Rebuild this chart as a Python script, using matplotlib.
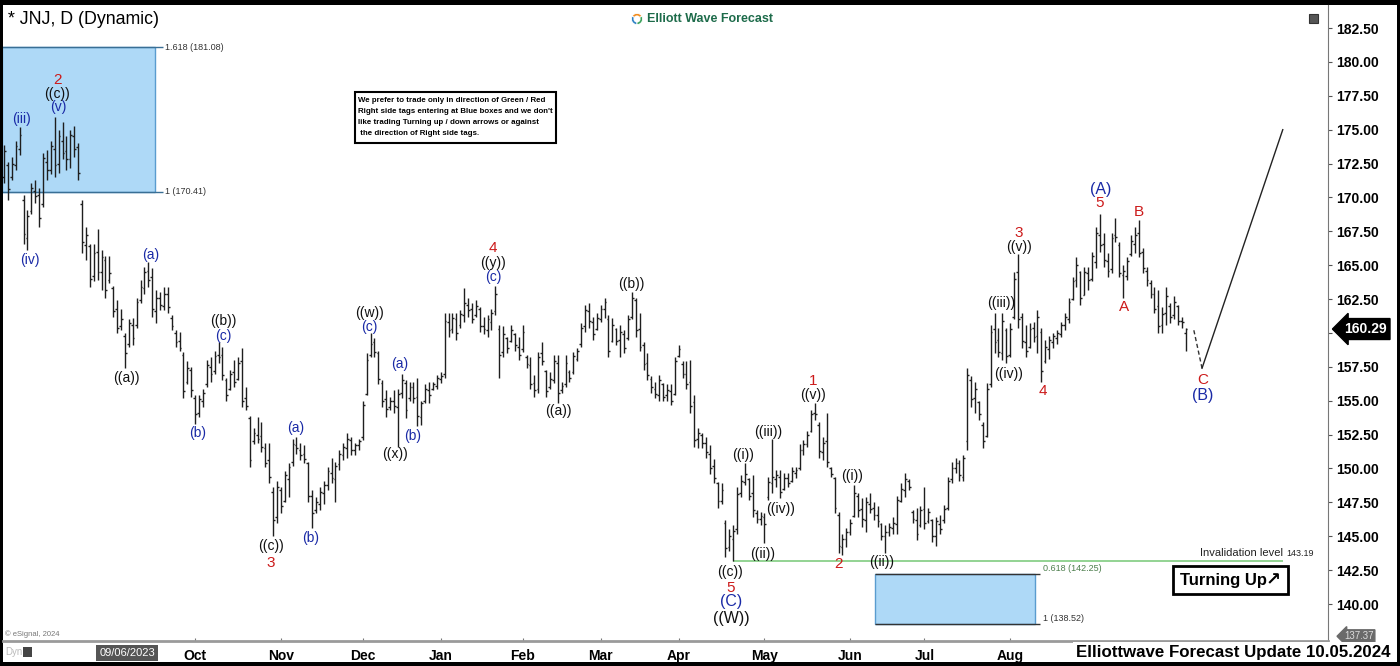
import numpy as np
import matplotlib
matplotlib.use('Agg')
import matplotlib.pyplot as plt
from matplotlib.patches import Rectangle
from matplotlib.transforms import blended_transform_factory

plt.rcParams['font.family'] = ['Liberation Sans', 'DejaVu Sans']

# daily OHLC of JNJ (bar 0 ~ late Jul 2023, last bar 04 Oct 2024)
highs = [173.9,172.6,173.0,174.2,175.2,170.2,169.1,171.1,171.3,170.7,
         173.3,173.5,174.2,175.9,175.0,175.6,174.5,175.0,175.3,174.0,
         169.8,167.8,166.6,166.6,167.7,166.1,165.7,165.7,163.5,162.4,
         161.8,160.0,161.0,161.1,162.6,163.9,164.9,165.2,164.8,163.2,
         163.0,163.4,163.4,161.3,160.2,160.1,158.6,157.9,157.5,155.4,
         155.4,155.9,158.0,158.2,158.7,159.3,159.0,156.7,157.3,158.0,
         158.2,158.9,156.0,153.9,153.0,153.8,153.4,151.9,151.9,148.6,
         149.1,148.6,149.8,150.4,152.2,152.3,151.9,151.7,150.5,148.4,
         147.9,148.6,149.1,150.1,150.8,150.5,151.4,151.9,152.6,152.3,
         151.9,152.2,155.0,158.5,160.0,159.6,158.7,156.5,155.8,155.3,
         155.8,155.9,157.0,156.5,156.4,156.4,156.7,155.0,156.2,156.4,
         156.4,156.9,157.1,161.5,161.5,161.5,161.5,161.7,163.3,162.6,
         162.2,162.4,161.9,161.2,161.3,161.8,163.5,160.6,160.5,159.7,
         160.6,160.0,159.7,160.6,158.4,158.2,156.9,158.6,159.3,157.3,
         157.1,158.4,158.4,156.4,158.4,157.3,158.6,158.9,160.7,162.1,
         162.2,161.2,161.5,162.1,162.6,161.3,161.1,160.4,160.6,160.2,
         161.3,163.0,162.6,161.5,159.3,158.5,156.8,156.4,156.9,156.3,
         156.2,156.2,158.2,159.1,157.9,157.9,158.0,155.4,153.0,152.6,
         152.3,151.7,150.7,149.0,148.9,146.2,145.5,145.8,148.6,149.5,
         150.4,149.3,149.5,146.9,146.8,146.7,149.4,152.2,149.9,149.9,
         149.7,149.7,150.1,150.1,151.8,152.1,152.8,154.3,154.8,153.4,
         152.3,154.1,150.1,149.4,146.8,145.2,145.6,146.3,148.8,148.2,
         147.8,147.9,148.2,147.5,147.2,146.0,145.8,146.0,146.4,148.0,
         148.9,149.7,149.2,146.9,147.1,147.2,148.6,147.1,146.3,146.4,
         146.6,147.3,149.4,150.5,150.8,150.6,151.0,157.4,156.8,156.4,
         155.0,153.4,156.3,160.6,161.5,160.4,161.5,160.4,160.7,164.5,
         165.8,161.5,160.6,160.7,160.8,161.7,160.4,159.5,159.8,160.0,
         160.2,160.8,161.5,162.6,164.1,165.6,164.6,164.9,164.9,166.0,
         167.8,168.8,167.4,165.9,167.4,168.5,166.7,165.0,165.6,167.2,
         167.8,168.3,166.3,164.9,163.9,163.4,163.2,161.9,163.4,162.2,
         162.7,162.1,161.2,160.4]
lows = [171.1,169.8,171.3,172.0,173.1,166.6,166.1,168.8,169.6,167.8,
        169.3,171.3,171.7,171.5,171.8,172.8,172.0,172.2,173.0,171.3,
        165.9,165.4,163.4,163.8,163.9,163.2,162.6,163.7,161.2,160.0,
        160.2,157.4,159.0,159.1,160.4,162.2,162.9,163.4,161.2,160.7,
        161.7,161.7,161.5,160.2,159.0,158.7,155.2,156.2,155.3,153.3,
        153.8,154.5,156.0,156.4,157.0,157.8,156.5,155.0,155.8,156.0,
        156.5,154.5,154.3,150.1,151.8,151.9,151.2,150.1,148.9,145.0,
        146.0,146.7,147.5,147.9,150.2,151.1,150.6,150.4,147.5,145.6,
        146.7,146.9,147.4,148.4,148.9,147.5,149.9,150.6,150.8,151.0,
        151.0,151.4,152.1,155.4,158.2,158.2,156.2,154.5,153.8,154.3,
        154.1,151.6,155.2,153.7,155.0,154.8,153.1,153.2,154.8,154.8,
        155.8,155.9,156.3,156.7,159.7,160.0,159.5,160.4,160.8,161.2,
        160.7,161.2,160.1,159.9,159.7,160.2,161.3,156.7,158.2,158.5,
        159.3,158.7,158.0,158.6,157.4,155.9,155.3,155.6,157.6,155.3,
        155.9,156.3,154.8,155.6,156.0,156.4,157.0,157.9,159.0,160.1,
        160.4,159.5,160.2,160.8,161.1,158.2,159.3,159.1,158.2,158.5,
        159.5,161.0,159.7,158.7,157.3,156.5,155.6,155.2,155.0,155.0,
        155.0,154.7,155.4,158.2,156.7,155.9,154.1,151.6,151.5,151.5,
        150.8,149.6,148.9,147.1,147.4,143.5,143.9,143.19,145.2,147.9,
        148.8,147.7,146.4,146.0,145.8,144.5,147.7,148.2,148.6,147.8,
        148.4,148.6,149.0,149.3,149.9,151.0,151.6,152.7,153.6,150.8,
        150.6,150.1,149.4,146.7,143.8,143.6,144.2,145.1,146.4,146.4,
        145.7,145.3,146.7,146.2,145.7,144.7,143.8,145.0,145.2,145.2,
        147.5,147.9,148.4,146.0,144.7,145.7,145.5,146.0,144.6,144.3,
        145.2,146.0,146.9,148.9,149.7,149.1,149.1,151.4,154.5,154.1,
        153.6,151.5,152.3,156.0,158.5,158.2,158.0,157.8,158.2,161.0,
        160.4,158.9,158.2,158.9,159.3,158.5,156.4,157.8,158.1,158.9,
        159.2,159.7,160.2,160.7,162.4,163.4,162.1,162.8,163.2,163.8,
        164.8,166.0,164.9,164.1,164.4,166.7,164.1,162.6,163.9,165.7,
        165.9,165.6,164.4,163.5,162.6,161.5,160.0,160.0,160.6,160.7,
        161.0,160.6,160.4,158.7]
opens = [171.5,172.4,171.5,172.4,173.6,169.8,167.0,169.0,170.5,170.2,
         169.5,172.6,172.0,173.6,172.5,174.2,173.4,172.8,174.5,173.7,
         169.5,166.5,166.4,164.2,166.0,164.5,165.4,163.9,163.3,161.8,
         160.5,159.8,159.2,160.6,160.6,162.4,163.3,164.6,164.1,161.6,
         162.6,162.0,162.9,161.1,160.0,159.4,158.4,156.4,157.3,155.2,
         154.1,155.0,156.2,157.5,157.2,158.4,158.4,156.5,155.9,157.1,
         156.6,157.9,155.2,153.7,152.0,152.5,152.4,151.5,150.6,148.3,
         146.4,148.4,147.6,149.2,150.5,151.7,151.4,151.1,150.4,148.0,
         146.9,147.4,148.2,148.8,149.7,149.2,150.3,151.0,151.5,152.1,
         151.4,151.7,152.3,155.5,158.4,159.3,158.5,156.3,155.1,154.5,
         155.0,154.5,155.6,156.3,155.2,156.0,155.3,153.8,155.0,155.8,
         155.9,156.1,156.6,157.0,160.8,160.3,161.0,160.6,161.3,162.1,
         161.8,161.3,161.8,160.5,160.2,160.8,161.6,160.3,158.6,159.6,
         159.4,159.9,159.0,158.8,158.2,157.6,156.3,155.9,158.5,157.2,
         156.0,156.5,157.8,155.8,156.2,157.1,157.1,158.1,159.2,160.5,
         161.6,160.8,160.3,161.0,161.8,161.0,159.4,160.3,159.5,159.9,
         159.6,161.2,162.4,160.3,159.1,157.8,156.6,155.9,155.4,156.2,
         155.4,155.7,155.5,158.3,157.7,157.0,156.4,154.9,152.2,152.5,
         151.9,151.1,150.2,148.9,147.6,146.0,144.2,144.8,145.5,148.2,
         149.0,149.2,148.2,146.7,146.3,146.4,147.9,148.9,149.2,149.4,
         148.5,149.3,149.1,149.7,150.0,151.4,151.8,152.8,154.1,153.2,
         151.2,152.0,150.0,149.3,146.6,144.2,144.8,145.3,146.5,148.0,
         147.0,146.2,147.4,147.1,146.6,145.9,145.0,145.3,145.6,145.9,
         147.6,148.4,149.1,146.8,146.2,145.8,147.0,146.1,146.2,145.0,
         145.9,146.2,147.1,149.2,150.0,150.4,149.4,152.0,156.5,155.2,
         154.9,153.2,152.4,156.2,160.3,159.5,158.5,160.2,158.4,161.2,
         164.5,161.2,159.3,159.0,160.4,159.8,160.1,157.9,158.8,159.3,
         159.6,159.9,160.6,161.0,162.5,163.9,164.5,162.8,164.4,164.0,
         165.2,167.2,166.6,165.3,164.7,167.2,166.5,164.3,164.2,165.8,
         166.6,167.4,166.0,164.6,163.7,162.9,162.0,160.6,161.5,162.0,
         161.3,162.0,160.9,160.0]
closes = [173.4,170.6,172.5,173.8,174.6,167.3,168.6,170.7,170.1,168.5,
          172.9,172.0,173.8,172.4,174.5,173.3,172.8,174.6,173.6,171.8,
          166.7,167.2,164.0,165.9,164.5,165.6,163.2,164.4,161.6,160.4,
          161.0,158.5,160.7,159.6,162.3,163.4,164.5,163.9,161.8,162.6,
          162.1,162.9,161.9,160.5,159.3,158.9,155.7,157.4,155.8,154.0,
          155.1,155.6,157.6,157.0,158.3,158.2,156.9,155.4,157.0,156.4,
          157.8,155.0,154.6,150.6,152.6,152.2,151.6,150.4,149.4,146.2,
          148.6,147.2,149.5,150.1,151.8,151.5,151.0,150.7,148.0,146.7,
          147.5,148.3,148.8,149.8,149.3,150.2,151.1,151.6,152.2,151.4,
          151.7,152.0,154.7,158.0,159.2,158.6,156.6,155.0,154.4,155.0,
          154.6,155.5,156.5,154.3,156.0,155.2,153.9,154.8,155.9,155.4,
          156.2,156.7,156.8,160.9,160.2,161.1,160.0,161.4,162.2,161.7,
          161.0,162.0,160.5,160.3,161.0,161.5,162.9,158.4,159.9,158.9,
          160.2,159.1,158.4,160.1,157.7,156.2,155.8,158.2,157.9,155.7,
          156.6,157.9,155.6,156.1,157.8,156.7,158.3,158.7,160.4,161.7,
          160.9,159.9,161.1,161.8,162.3,158.7,160.6,159.4,160.1,158.9,
          161.0,162.6,160.2,159.0,157.7,156.9,156.0,155.5,156.5,155.3,
          155.8,155.0,157.9,158.8,157.0,156.2,154.6,152.1,152.6,151.9,
          151.2,150.0,149.3,147.6,148.4,144.1,145.0,145.4,148.1,149.1,
          149.6,148.0,146.9,146.3,146.5,145.9,149.0,149.4,149.5,148.3,
          149.3,148.9,149.8,149.9,151.4,151.8,152.5,154.0,154.0,151.3,
          151.9,150.5,149.6,147.1,144.3,144.8,145.3,146.0,148.2,146.9,
          146.3,147.5,147.0,146.6,146.1,145.0,145.3,145.7,146.0,147.7,
          148.5,149.2,148.6,146.3,145.2,146.9,146.0,146.8,145.0,146.1,
          145.5,147.0,149.1,150.0,150.4,149.5,150.8,156.9,155.1,155.9,
          154.0,152.0,155.9,160.1,159.3,158.6,160.9,158.3,160.3,164.0,
          161.0,159.4,158.7,160.3,159.7,161.2,157.2,159.0,159.5,159.8,
          160.0,160.6,161.2,162.3,163.8,165.0,162.6,164.5,163.9,165.7,
          167.4,166.5,165.4,164.6,167.0,167.1,164.4,164.6,165.3,166.8,
          167.2,165.9,164.8,163.9,162.9,161.8,160.5,161.4,162.7,161.2,
          162.3,160.9,160.8,160.29]

# month starts (bar index) and their labels
month_pos = [49, 71, 92, 112, 133, 153, 173, 195, 217, 236, 258]
month_lbl = ['Oct', 'Nov', 'Dec', 'Jan', 'Feb', 'Mar', 'Apr', 'May', 'Jun', 'Jul', 'Aug']
price_ticks = [140.0, 142.5, 145.0, 147.5, 150.0, 152.5, 155.0, 157.5, 160.0, 162.5,
               165.0, 167.5, 170.0, 172.5, 175.0, 177.5, 180.0, 182.5]

# fib boxes (bar from, bar to, lower price, upper price)
box_top = [-0.5, 38.7, 170.41, 181.08]
box_bot = [223.3, 264.4, 138.52, 142.25]
invalidation = 143.19
last_price = 160.29

# projected path
proj_x = [305.1, 307.2, 327.9]
proj_y = [160.2, 157.4, 175.0]

RED = '#cc1a1a'
BLUE = '#1a2aa6'
BLK = '#111111'
# wave labels: text, bar, price, colour, size
waves = [
    ('2', 13.8, 178.66, RED, 11), ('((c))', 13.6, 177.63, BLK, 10), ('(v)', 13.8, 176.67, BLUE, 10),
    ('(iii)', 4.6, 175.79, BLUE, 10), ('(iv)', 6.7, 165.38, BLUE, 10),
    ('(a)', 37.7, 165.75, BLUE, 10), ('((a))', 31.5, 156.68, BLK, 10),
    ('((b))', 56.2, 160.88, BLK, 10), ('(c)', 56.2, 159.77, BLUE, 10), ('(b)', 49.7, 152.62, BLUE, 10),
    ('((c))', 68.5, 144.28, BLK, 10), ('3', 68.5, 143.03, RED, 11),
    ('(a)', 74.9, 152.99, BLUE, 10), ('(b)', 78.5, 144.87, BLUE, 10),
    ('((w))', 93.6, 161.47, BLK, 10), ('(c)', 93.6, 160.44, BLUE, 10),
    ('(a)', 101.5, 157.71, BLUE, 10), ('(b)', 104.9, 152.4, BLUE, 10), ('((x))', 100.3, 151.07, BLK, 10),
    ('4', 125.4, 166.27, RED, 11), ('((y))', 125.4, 165.16, BLK, 10), ('(c)', 125.4, 164.13, BLUE, 10),
    ('((a))', 142.1, 154.24, BLK, 10), ('((b))', 160.8, 163.61, BLK, 10),
    ('((c))', 186.2, 142.36, BLK, 10), ('5', 186.2, 141.18, RED, 11),
    ('(C)', 186.4, 140.15, BLUE, 11.5), ('((W))', 186.4, 138.9, BLK, 11.5),
    ('((i))', 189.5, 150.99, BLK, 10), ('((ii))', 194.6, 143.69, BLK, 10),
    ('((iii))', 195.9, 152.69, BLK, 10), ('((iv))', 199.2, 147.01, BLK, 10),
    ('1', 207.4, 156.45, RED, 11), ('((v))', 207.4, 155.42, BLK, 10),
    ('2', 214.1, 142.95, RED, 11), ('((i))', 217.4, 149.45, BLK, 10), ('((ii))', 225.1, 143.1, BLK, 10),
    ('((iii))', 255.6, 162.21, BLK, 10), ('((iv))', 257.7, 156.97, BLK, 10),
    ('3', 260.3, 167.37, RED, 11), ('((v))', 260.3, 166.34, BLK, 10),
    ('4', 266.4, 155.72, RED, 11),
    ('(A)', 281.3, 170.62, BLUE, 11.5), ('5', 281.0, 169.59, RED, 11),
    ('A', 287.2, 161.91, RED, 11), ('B', 291.0, 168.92, RED, 11),
    ('C', 307.4, 156.53, RED, 11), ('(B)', 307.4, 155.42, BLUE, 11.5),
]

W, H = 1400, 666
def fx(px):
    return px / W
def fy(py):
    return 1 - py / H

fig = plt.figure(figsize=(14, 6.66), dpi=100, facecolor='black')
fig.add_artist(Rectangle((fx(3), fy(662)), fx(1394), 657 / H, transform=fig.transFigure,
                         facecolor='white', edgecolor='none', zorder=0))
ax = fig.add_axes([fx(3), fy(641), fx(1325), 636 / H])
ax.set_facecolor('white')

x = np.arange(len(highs))
ax.vlines(x, lows, highs, color='#1e1e1e', lw=1.0, zorder=3)
ax.hlines(opens, x - 0.45, x, color='#1e1e1e', lw=1.0, zorder=3)
ax.hlines(closes, x, x + 0.45, color='#1e1e1e', lw=1.0, zorder=3)

# blue boxes
for b in (box_top, box_bot):
    ax.add_patch(Rectangle((b[0], b[2]), b[1] - b[0], b[3] - b[2], facecolor='#aed9f7',
                           edgecolor='#5a9ccf', lw=1.0, zorder=1))
ax.hlines([box_top[3], box_top[2]], box_top[0], box_top[1] + 2.0, color='#3a6f95', lw=1.0, zorder=2)
ax.text(box_top[1] + 2.6, box_top[3], '1.618 (181.08)', fontsize=6.5, color='#333333', va='center')
ax.text(box_top[1] + 2.6, box_top[2], '1 (170.41)', fontsize=6.5, color='#333333', va='center')
ax.hlines([box_bot[3], box_bot[2]], box_bot[0], box_bot[1] + 1.3, color='#333333', lw=1.0, zorder=2)
ax.text(box_bot[1] + 1.9, box_bot[3] + 0.05, '0.618 (142.25)', fontsize=6.5, color='#4d7f4d', va='bottom')
ax.text(box_bot[1] + 1.9, box_bot[2] + 0.05, '1 (138.52)', fontsize=6.5, color='#333333', va='bottom')

# invalidation line
ax.hlines(invalidation, 186.9, 328.0, color='#80cc80', lw=1.2, zorder=2)
ax.text(328.0, invalidation + 0.2, 'Invalidation level', fontsize=8, color='#222222', ha='right', va='bottom')
ax.text(328.7, invalidation + 0.2, '143.19', fontsize=6.5, color='#222222', ha='left', va='bottom')

# projection
ax.plot(proj_x[:2], proj_y[:2], color='#333333', lw=1.0, ls=(0, (3, 2)), zorder=3)
ax.plot(proj_x[1:], proj_y[1:], color='#222222', lw=1.0, zorder=3)

for t, bx, py, c, s in waves:
    ax.text(bx, py, t, color=c, fontsize=s, ha='center', va='center', zorder=5)

ax.set_xlim(-0.26, 339.5)
ax.set_ylim(137.27, 184.2)

for side in ('top', 'left'):
    ax.spines[side].set_visible(False)
ax.spines['right'].set_color('#777777')
ax.spines['bottom'].set_color('#9a9a9a')
ax.spines['bottom'].set_linewidth(2)

# the last-price tag sits on top of the 160.00 label, so that one stays blank
ax.yaxis.tick_right()
ax.set_yticks(price_ticks)
ax.set_yticklabels(['' if abs(p - 160.0) < 0.01 else '%.2f' % p for p in price_ticks],
                   fontsize=10, fontweight='bold')
ax.tick_params(axis='y', length=3, pad=3, colors='#555555', labelcolor='black')
ax.set_xticks(month_pos)
ax.set_xticklabels(month_lbl, fontsize=10, fontweight='bold')
ax.tick_params(axis='x', length=2, direction='in', pad=6, colors='#777777', labelcolor='black')

# right-side price tags
tr = blended_transform_factory(ax.transAxes, ax.transData)
ax.text(1.012, last_price, '%.2f' % last_price, transform=tr, fontsize=10, fontweight='bold',
        color='white', va='center', ha='left', clip_on=False, zorder=10,
        bbox=dict(boxstyle='larrow,pad=0.25', fc='black', ec='black'))
ax.text(1.012, 137.62, '137.37', transform=tr, fontsize=7, color='#dddddd', va='center', ha='left',
        clip_on=False, bbox=dict(boxstyle='larrow,pad=0.15', fc='#6a6a6a', ec='#6a6a6a'))

# header and overlays
fig.text(fx(8), fy(20), '* JNJ, D (Dynamic)', fontsize=12.8, color='black', va='center', ha='left')
fig.text(fx(647), fy(19), 'Elliott Wave Forecast', fontsize=9, fontweight='bold', color='#1d6b4a',
         va='center', ha='left')
logo = fig.add_axes([fx(630), fy(26), fx(14), 14 / H])
logo.pie([1, 1, 1], colors=['#f08a1c', '#2b7fc4', '#3aa15a'], startangle=30,
         wedgeprops=dict(width=0.45, edgecolor='white', linewidth=0.6))
logo.set_aspect('equal')
logo.axis('off')
fig.add_artist(Rectangle((fx(1309), fy(23)), fx(9), 9 / H, transform=fig.transFigure,
                         facecolor='#555555', edgecolor='#333333', lw=0.8))

fig.add_artist(Rectangle((fx(355), fy(143)), fx(201), 51 / H, transform=fig.transFigure,
                         facecolor='white', edgecolor='black', lw=1.5, zorder=6))
fig.text(fx(358), fy(97),
         "We prefer to trade only in direction of Green / Red\n"
         "Right side tags entering at Blue boxes and we don't\n"
         "like trading Turning up / down arrows or against\n"
         " the direction of Right side tags.",
         fontsize=5.65, fontweight='bold', va='top', ha='left', linespacing=1.8, zorder=7)

fig.add_artist(Rectangle((fx(1173), fy(594)), fx(115), 28 / H, transform=fig.transFigure,
                         facecolor='white', edgecolor='black', lw=2, zorder=6))
fig.text(fx(1180), fy(580), 'Turning Up', fontsize=12, fontweight='bold', va='center', ha='left',
         family=['Liberation Sans Narrow', 'Liberation Sans'], zorder=7)
fig.text(fx(1266), fy(580), '\u2197', fontsize=13, fontweight='bold', va='center', ha='left',
         family=['DejaVu Sans'], zorder=7)

fig.text(fx(5), fy(634), '\u00a9 eSignal, 2024', fontsize=5.5, color='#777777', va='center')
fig.text(fx(5), fy(652), 'Dyn', fontsize=7, color='#bbbbbb', va='center')
fig.add_artist(Rectangle((fx(23), fy(657)), fx(9), 10 / H, transform=fig.transFigure,
                         facecolor='#444444', edgecolor='none'))
fig.text(fx(127), fy(653), '09/06/2023', fontsize=8, color='white', va='center', ha='center',
         bbox=dict(boxstyle='square,pad=0.3', fc='#555555', ec='none'))
fig.text(fx(1390), fy(652), 'Elliottwave Forecast Update 10.05.2024', fontsize=12.2, fontweight='bold',
         va='center', ha='right', zorder=8,
         bbox=dict(boxstyle='square,pad=0.15', fc='white', ec='none'))

fig.savefig('out.png', dpi=100, facecolor='black')
